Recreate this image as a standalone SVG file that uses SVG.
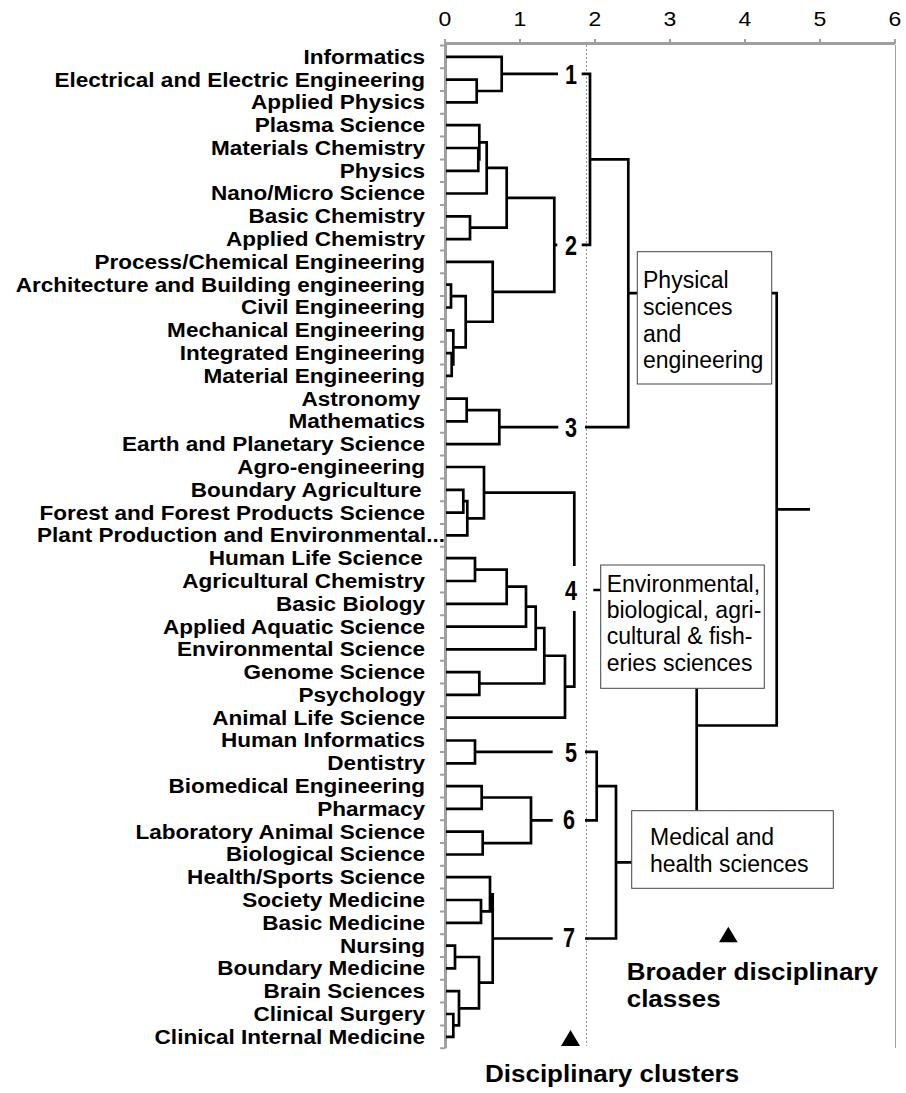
<svg xmlns="http://www.w3.org/2000/svg" width="906" height="1093" viewBox="0 0 906 1093">
<style>
.lbl{font-family:"Liberation Sans",Arial,sans-serif;font-weight:bold;font-size:19.6px;fill:#000;text-anchor:end}
.ax{font-family:"Liberation Sans",Arial,sans-serif;font-size:20px;fill:#000;text-anchor:middle}
.cn{font-family:"Liberation Sans Narrow","Liberation Sans",Arial,sans-serif;font-weight:bold;font-size:27px;fill:#000;text-anchor:middle}
.bx{fill:#fff;stroke:#444;stroke-width:1}
.bt{font-family:"Liberation Sans",Arial,sans-serif;font-size:23px;fill:#000}
.big{font-family:"Liberation Sans",Arial,sans-serif;font-weight:bold;font-size:23px;fill:#000}
.ln{fill:none;stroke:#000;stroke-width:2.7;stroke-linejoin:miter}
.grid{fill:none;stroke:#a0a0a0}
</style>
<rect width="906" height="1093" fill="#fff"/>
<g id="axes">
<path class="grid" stroke-width="3" d="M445 43.5 H895 M445.5 43 V1048.5"/>
<path class="grid" stroke-width="2" d="M445 39 V44 M520 39 V44 M595 39 V44 M670 39 V44 M745 39 V44 M820 39 V44 M895 39 V44"/>
<path class="grid" stroke-width="2" d="M440 45.4H445M440 68.2H445M440 91H445M440 113.8H445M440 136.6H445M440 159.4H445M440 182.1H445M440 204.9H445M440 227.7H445M440 250.5H445M440 273.3H445M440 296.1H445M440 318.9H445M440 341.7H445M440 364.5H445M440 387.3H445M440 410H445M440 432.8H445M440 455.6H445M440 478.4H445M440 501.2H445M440 524H445M440 546.8H445M440 569.6H445M440 592.4H445M440 615.2H445M440 637.9H445M440 660.7H445M440 683.5H445M440 706.3H445M440 729.1H445M440 751.9H445M440 774.7H445M440 797.5H445M440 820.3H445M440 843.1H445M440 865.8H445M440 888.6H445M440 911.4H445M440 934.2H445M440 957H445M440 979.8H445M440 1002.6H445M440 1025.4H445M440 1048.2H445"/>
<path stroke="#a0a0a0" stroke-width="1" fill="none" d="M895.5 45 V1048"/>
<path stroke="#909090" stroke-width="1" stroke-dasharray="2 2" fill="none" d="M586.5 45 V1046"/>
<g transform="translate(445 26) scale(1.15 1)"><text class="ax">0</text></g>
<g transform="translate(520 26) scale(1.15 1)"><text class="ax">1</text></g>
<g transform="translate(595 26) scale(1.15 1)"><text class="ax">2</text></g>
<g transform="translate(670 26) scale(1.15 1)"><text class="ax">3</text></g>
<g transform="translate(745 26) scale(1.15 1)"><text class="ax">4</text></g>
<g transform="translate(820 26) scale(1.15 1)"><text class="ax">5</text></g>
<g transform="translate(895 26) scale(1.15 1)"><text class="ax">6</text></g>
</g>
<g id="leaves" transform="translate(425 0) scale(1.15 1)">
<g id="n1"><text class="lbl" y="63.8">Informatics</text></g>
<g id="n2"><text class="lbl" y="86.6">Electrical and Electric Engineering</text></g>
<g id="n3"><text class="lbl" y="109.4">Applied Physics</text></g>
<g id="n4"><text class="lbl" y="132.2">Plasma Science</text></g>
<g id="n5"><text class="lbl" y="155">Materials Chemistry</text></g>
<g id="n6"><text class="lbl" y="177.8">Physics</text></g>
<g id="n7"><text class="lbl" y="200.5">Nano/Micro Science</text></g>
<g id="n8"><text class="lbl" y="223.3">Basic Chemistry</text></g>
<g id="n9"><text class="lbl" y="246.1">Applied Chemistry</text></g>
<g id="n10"><text class="lbl" y="268.9">Process/Chemical Engineering</text></g>
<g id="n11"><text class="lbl" y="291.7">Architecture and Building engineering</text></g>
<g id="n12"><text class="lbl" y="314.5">Civil Engineering</text></g>
<g id="n13"><text class="lbl" y="337.3">Mechanical Engineering</text></g>
<g id="n14"><text class="lbl" y="360.1">Integrated Engineering</text></g>
<g id="n15"><text class="lbl" y="382.9">Material Engineering</text></g>
<g id="n16"><text class="lbl" y="405.7" x="-4">Astronomy</text></g>
<g id="n17"><text class="lbl" y="428.4">Mathematics</text></g>
<g id="n18"><text class="lbl" y="451.2">Earth and Planetary Science</text></g>
<g id="n19"><text class="lbl" y="474">Agro-engineering</text></g>
<g id="n20"><text class="lbl" y="496.8" x="-3">Boundary Agriculture</text></g>
<g id="n21"><text class="lbl" y="519.6">Forest and Forest Products Science</text></g>
<g id="n22"><text class="lbl" y="542.4" x="17.5">Plant Production and Environmental...</text></g>
<g id="n23"><text class="lbl" y="565.2" x="-2">Human Life Science</text></g>
<g id="n24"><text class="lbl" y="588">Agricultural Chemistry</text></g>
<g id="n25"><text class="lbl" y="610.8">Basic Biology</text></g>
<g id="n26"><text class="lbl" y="633.6">Applied Aquatic Science</text></g>
<g id="n27"><text class="lbl" y="656.3">Environmental Science</text></g>
<g id="n28"><text class="lbl" y="679.1">Genome Science</text></g>
<g id="n29"><text class="lbl" y="701.9">Psychology</text></g>
<g id="n30"><text class="lbl" y="724.7">Animal Life Science</text></g>
<g id="n31"><text class="lbl" y="747.5">Human Informatics</text></g>
<g id="n32"><text class="lbl" y="770.3">Dentistry</text></g>
<g id="n33"><text class="lbl" y="793.1">Biomedical Engineering</text></g>
<g id="n34"><text class="lbl" y="815.9">Pharmacy</text></g>
<g id="n35"><text class="lbl" y="838.7">Laboratory Animal Science</text></g>
<g id="n36"><text class="lbl" y="861.5">Biological Science</text></g>
<g id="n37"><text class="lbl" y="884.2">Health/Sports Science</text></g>
<g id="n38"><text class="lbl" y="907">Society Medicine</text></g>
<g id="n39"><text class="lbl" y="929.8">Basic Medicine</text></g>
<g id="n40"><text class="lbl" y="952.6">Nursing</text></g>
<g id="n41"><text class="lbl" y="975.4">Boundary Medicine</text></g>
<g id="n42"><text class="lbl" y="998.2">Brain Sciences</text></g>
<g id="n43"><text class="lbl" y="1021">Clinical Surgery</text></g>
<g id="n44"><text class="lbl" y="1043.8">Clinical Internal Medicine</text></g>
</g>
<g id="connectors" class="ln">
<path class="ln" d="M446 79.6H476.7V102.4H446M446 56.8H501.7V91H476.7M501.7 73.9H558"/>
<path class="ln" d="M446 148H478.3V170.8H446M446 125.2H479.3V159.4H478.3M479.3 142.3H486.7V193.5H446M446 216.3H470V239.1H446M486.7 167.9H506.7V227.7H470M446 284.7H451V307.5H446M446 353.1H451.7V375.9H446M446 330.3H453.3V364.5H451.7M451 296.1H465.7V347.4H453.3M446 261.9H492.7V321.75H465.7M506.7 197.8H554.3V291.8H492.7M554.3 244.8H557.3"/>
<path class="ln" d="M446 398.7H466.7V421.4H446M466.7 410.05H499.3V444.2H446M499.3 427.1H558.3"/>
<path class="ln" d="M446 489.8H463.3V512.6H446M463.3 501.2H467.3V535.4H446M446 467H484V518.3H467.3M446 558.2H475V581H446M475 569.6H506.7V603.8H446M506.7 586.7H526V626.6H446M526 606.65H535.7V649.3H446M446 672.1H479.3V694.9H446M535.7 628H544.3V683.5H479.3M544.3 655.75H565V717.7H446M484 492.65H574.3V566M574.3 611V686.7H565M593.3 590H600.7"/>
<path class="ln" d="M446 740.5H475V763.3H446M475 751.9H552.7"/>
<path class="ln" d="M446 786.1H481.7V808.9H446M446 831.7H482.7V854.5H446M481.7 797.5H531V843.1H482.7M531 820.3H552.7"/>
<path class="ln" d="M446 900H481V922.8H446M446 877.2H490V911.4H481M446 945.6H455V968.4H446M446 1014H453.3V1036.8H446M446 991.2H459V1025.4H453.3M455 957H479V1008.3H459M490 894.3H492.7V982.65H479M492.7 938.5H552.7"/>
<path class="ln" d="M581.7 73.9H590V244.8H581.7M590 159.35H628.3V427.1H585M628.3 293.2H637.3M771.7 293.2H776.7V725.5H696.7M696.7 688.3V810.7M776.7 509.4H810M585 751.9H596.7V820.3H585M596.7 786.1H616V938.5H585M616 862.3H631.7"/>
</g>
<g id="c1" transform="translate(571 83.8) scale(0.8 1)"><text class="cn">1</text></g>
<g id="c2" transform="translate(571 254.5) scale(0.8 1)"><text class="cn">2</text></g>
<g id="c3" transform="translate(571 436.5) scale(0.8 1)"><text class="cn">3</text></g>
<g id="c4" transform="translate(571 599.5) scale(0.8 1)"><text class="cn">4</text></g>
<g id="c5" transform="translate(571 761.5) scale(0.8 1)"><text class="cn">5</text></g>
<g id="c6" transform="translate(569 829) scale(0.8 1)"><text class="cn">6</text></g>
<g id="c7" transform="translate(569 947) scale(0.8 1)"><text class="cn">7</text></g>
<g id="physical">
<rect class="bx" x="637.3" y="251.7" width="134.4" height="132.3"/>
<text class="bt" x="643" y="288.3">Physical</text>
<text class="bt" x="643" y="315">sciences</text>
<text class="bt" x="643" y="341.7">and</text>
<text class="bt" x="643" y="368.3">engineering</text>
</g>
<g id="environmental">
<rect class="bx" x="600.7" y="565" width="163.6" height="123.3"/>
<text class="bt" x="606.7" y="591.7">Environmental,</text>
<text class="bt" x="606.7" y="618">biological, agri-</text>
<text class="bt" x="606.7" y="644.3">cultural &amp; fish-</text>
<text class="bt" x="606.7" y="670.7">eries sciences</text>
</g>
<g id="medical">
<rect class="bx" x="631.7" y="810.7" width="201.6" height="77.6"/>
<text class="bt" x="650" y="845">Medical and</text>
<text class="bt" x="650" y="871.7">health sciences</text>
</g>
<g id="tri1"><path d="M570.5 1030 L580 1046 L561 1046 Z" fill="#000"/></g>
<g id="tri2"><path d="M728.3 926.7 L737.7 942.3 L719 942.3 Z" fill="#000"/></g>
<g id="broader" transform="translate(626.7 0) scale(1.13 1)">
<text class="big" x="0" y="980">Broader disciplinary</text>
<text class="big" x="0" y="1007.3">classes</text>
</g>
<g id="clusters" transform="translate(485 0) scale(1.13 1)">
<text class="big" x="0" y="1081.7">Disciplinary clusters</text>
</g>
</svg>
